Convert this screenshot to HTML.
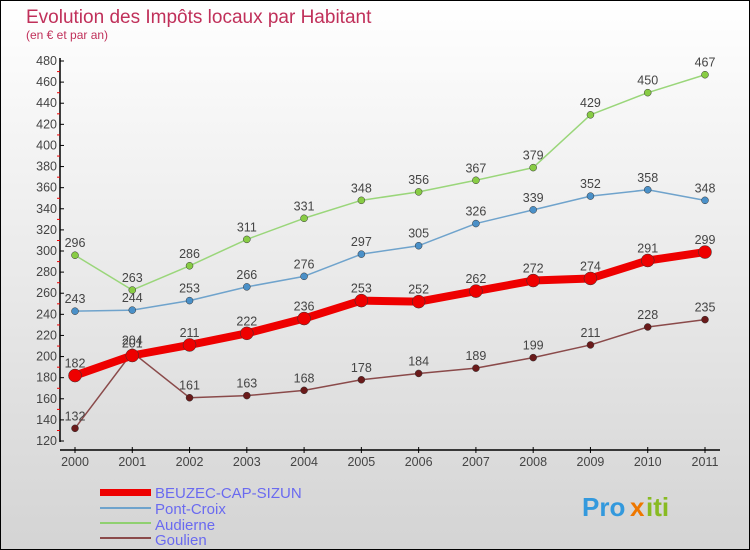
<!DOCTYPE html>
<html><head><meta charset="utf-8"><style>
body{margin:0;width:750px;height:550px;overflow:hidden}
svg{display:block;font-family:"Liberation Sans",sans-serif}
</style></head><body>
<svg width="750" height="550">
<defs><linearGradient id="bg" x1="0" y1="0" x2="0" y2="1"><stop offset="0" stop-color="#ffffff"/><stop offset="1" stop-color="#d4d4d4"/></linearGradient></defs>
<rect x="0.5" y="0.5" width="749" height="549" fill="url(#bg)" stroke="#000"/>
<text x="26" y="23" font-size="19" fill="#c0305a">Evolution des Impôts locaux par Habitant</text>
<text x="26" y="39" font-size="12" fill="#c0305a">(en € et par an)</text>
<g id="axes"></g>
<g id="series"></g>
<g>
<rect x="100" y="489" width="51" height="7" fill="#e00"/>
<text x="155" y="498" font-size="15" fill="#6a6af0">BEUZEC-CAP-SIZUN</text>
<rect x="100" y="507" width="51" height="2" fill="#6fa3cc"/>
<text x="155" y="514" font-size="15" fill="#6a6af0">Pont-Croix</text>
<rect x="100" y="522" width="51" height="2" fill="#8fd070"/>
<text x="155" y="530" font-size="15" fill="#6a6af0">Audierne</text>
<rect x="100" y="537" width="51" height="2" fill="#8a4a4a"/>
<text x="155" y="545" font-size="15" fill="#6a6af0">Goulien</text>
</g>
<g font-size="26" font-weight="bold">
<text x="582" y="516" fill="#3399dd">Pro</text><text x="630" y="516" fill="#ee7700">x</text><text x="646" y="516" fill="#88bb22">iti</text>
</g>
</svg>
<script>
const years=[2000,2001,2002,2003,2004,2005,2006,2007,2008,2009,2010,2011];
const beuzec=[182,201,211,222,236,253,252,262,272,274,291,299];
const pontCroix=[243,244,253,266,276,297,305,326,339,352,358,348];
const audierne=[296,263,286,311,331,348,356,367,379,429,450,467];
const goulien=[132,204,161,163,168,178,184,189,199,211,228,235];
const yTicks=[120,140,160,180,200,220,240,260,280,300,320,340,360,380,400,420,440,460,480];
const NS="http://www.w3.org/2000/svg";
const xS=i=>75+i*(630/11);
const yS=v=>441-(v-120)*(380/360);
function mk(t,a,p){const e=document.createElementNS(NS,t);for(const k in a)e.setAttribute(k,a[k]);p.appendChild(e);return e;}
const ax=document.getElementById('axes');
const ya=mk('line',{x1:60,y1:58,x2:60,y2:442,stroke:'#000','stroke-width':1.5},ax);


const xa=mk('line',{x1:60,y1:450,x2:720,y2:450,stroke:'#000','stroke-width':1.5},ax);


yTicks.forEach((v,i)=>{
 const y=yS(v);
 mk('line',{x1:60,y1:y,x2:64,y2:y,stroke:'#000'},ax);
 if(i<yTicks.length-1) mk('line',{x1:57,y1:y-10.5,x2:60,y2:y-10.5,stroke:'#e00'},ax);
 const t=mk('text',{x:57,y:y+4,'font-size':12.5,'text-anchor':'end',fill:'#444'},ax);
 t.textContent=v;
 
 
});
years.forEach((yr,i)=>{
 const x=xS(i);
 mk('line',{x1:x,y1:447,x2:x,y2:453,stroke:'#000'},ax);
 const t=mk('text',{x:x,y:466,'font-size':12.5,'text-anchor':'middle',fill:'#444'},ax);
 t.textContent=yr;
 
 
});
const sg=document.getElementById('series');
function draw(vals,color,dot,w,r,name){
 const g=mk('g',{},sg);
 
 
 const p=mk('polyline',{points:vals.map((v,i)=>xS(i)+','+yS(v)).join(' '),fill:'none',stroke:color,'stroke-width':w,'stroke-linejoin':'round'},g);
 
 
 vals.forEach((v,i)=>{
  const c=mk('circle',{cx:xS(i),cy:yS(v),r:r,fill:dot,stroke:'#333','stroke-width':0.5},g);
  
  
  const t=mk('text',{x:xS(i),y:yS(v)-8,'font-size':12.5,'text-anchor':'middle',fill:'#444'},g);
  t.textContent=v;
  
  
 });
}
draw(audierne,'#9ad67a','#88cc44',1.5,3.5,'audierne');
draw(pontCroix,'#6fa3cc','#4a90c8',1.5,3.5,'pont-croix');
draw(goulien,'#8a4a4a','#6a1a1a',1.5,3.5,'goulien');
draw(beuzec,'#ee0000','#ee0000',8,6.5,'beuzec');
</script>
</body></html>
